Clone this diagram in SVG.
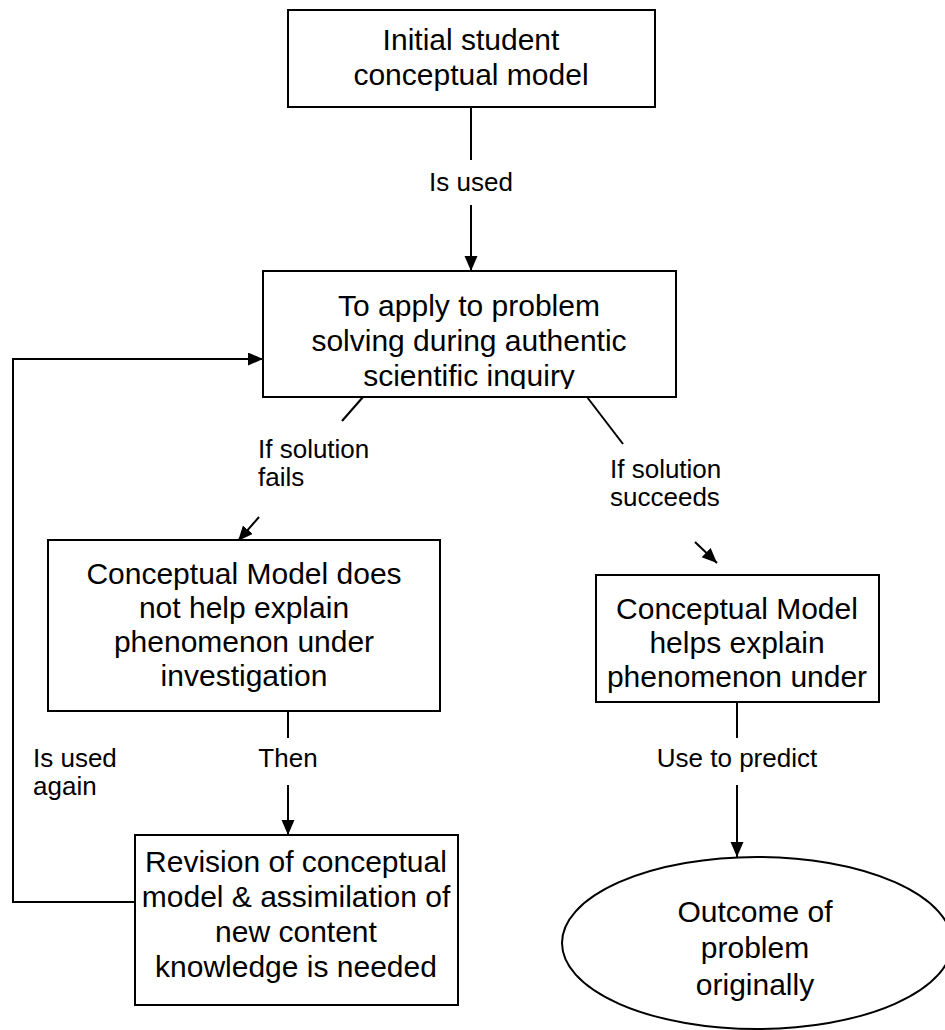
<svg xmlns="http://www.w3.org/2000/svg" width="945" height="1030" viewBox="0 0 945 1030">
<style>
.box{fill:#fff;stroke:#000;stroke-width:2}
.ln{fill:none;stroke:#000;stroke-width:2}
.t{font-family:"Liberation Sans",Arial,sans-serif;font-size:30px;fill:#000;text-anchor:middle}
.l{font-family:"Liberation Sans",Arial,sans-serif;font-size:26px;fill:#000}
.c{text-anchor:middle}
</style>
<defs>
<marker id="ah" markerUnits="userSpaceOnUse" markerWidth="16" markerHeight="14" refX="15" refY="6.5" orient="auto">
<path d="M0,0 L15,6.5 L0,13 z" fill="#000"/>
</marker>
<clipPath id="cp2"><rect x="263" y="271" width="413" height="118"/></clipPath>
</defs>
<rect width="945" height="1030" fill="#fff"/>
<g id="connectors">
<line class="ln" x1="471" y1="107" x2="471" y2="160"/>
<line class="ln" x1="471" y1="205" x2="471" y2="271" marker-end="url(#ah)"/>
<line class="ln" x1="363" y1="397" x2="342" y2="421"/>
<line class="ln" x1="259" y1="517" x2="238" y2="541" marker-end="url(#ah)"/>
<line class="ln" x1="587" y1="397" x2="623" y2="444"/>
<line class="ln" x1="695" y1="542" x2="717" y2="563" marker-end="url(#ah)"/>
<line class="ln" x1="288" y1="711" x2="288" y2="738"/>
<line class="ln" x1="288" y1="785" x2="288" y2="835" marker-end="url(#ah)"/>
<line class="ln" x1="737" y1="702" x2="737" y2="738"/>
<line class="ln" x1="737" y1="785" x2="737" y2="857" marker-end="url(#ah)"/>
<path class="ln" d="M135,902 H13 V359 H263" marker-end="url(#ah)"/>
<text class="l c" x="471" y="191">Is used</text>
<text class="l" x="258" y="458">If solution</text>
<text class="l" x="258" y="486">fails</text>
<text class="l" x="610" y="478">If solution</text>
<text class="l" x="610" y="506">succeeds</text>
<text class="l" x="33" y="767">Is used</text>
<text class="l" x="33" y="795">again</text>
<text class="l c" x="288" y="767">Then</text>
<text class="l c" x="737" y="767">Use to predict</text>
</g>
<g id="n1">
<rect class="box" x="288" y="10" width="367" height="97"/>
<text class="t" x="471" y="50">Initial student</text>
<text class="t" x="471" y="85">conceptual model</text>
</g>
<g id="n2">
<rect class="box" x="263" y="271" width="413" height="126"/>
<g clip-path="url(#cp2)">
<text class="t" x="469" y="316">To apply to problem</text>
<text class="t" x="469" y="351">solving during authentic</text>
<text class="t" x="469" y="386">scientific inquiry</text>
</g>
</g>
<g id="n3">
<rect class="box" x="48" y="540" width="392" height="171"/>
<text class="t" x="244" y="584">Conceptual Model does</text>
<text class="t" x="244" y="618">not help explain</text>
<text class="t" x="244" y="652">phenomenon under</text>
<text class="t" x="244" y="686">investigation</text>
</g>
<g id="n4">
<rect class="box" x="135" y="835" width="323" height="170"/>
<text class="t" x="296" y="872">Revision of conceptual</text>
<text class="t" x="296" y="907">model &amp; assimilation of</text>
<text class="t" x="296" y="942">new content</text>
<text class="t" x="296" y="977">knowledge is needed</text>
</g>
<g id="n5">
<rect class="box" x="596" y="575" width="283" height="127"/>
<text class="t" x="737" y="619">Conceptual Model</text>
<text class="t" x="737" y="653">helps explain</text>
<text class="t" x="737" y="687">phenomenon under</text>
</g>
<g id="n6">
<ellipse class="box" cx="757" cy="943" rx="195" ry="86"/>
<text class="t" x="755" y="922">Outcome of</text>
<text class="t" x="755" y="958">problem</text>
<text class="t" x="755" y="995">originally</text>
</g>
</svg>
